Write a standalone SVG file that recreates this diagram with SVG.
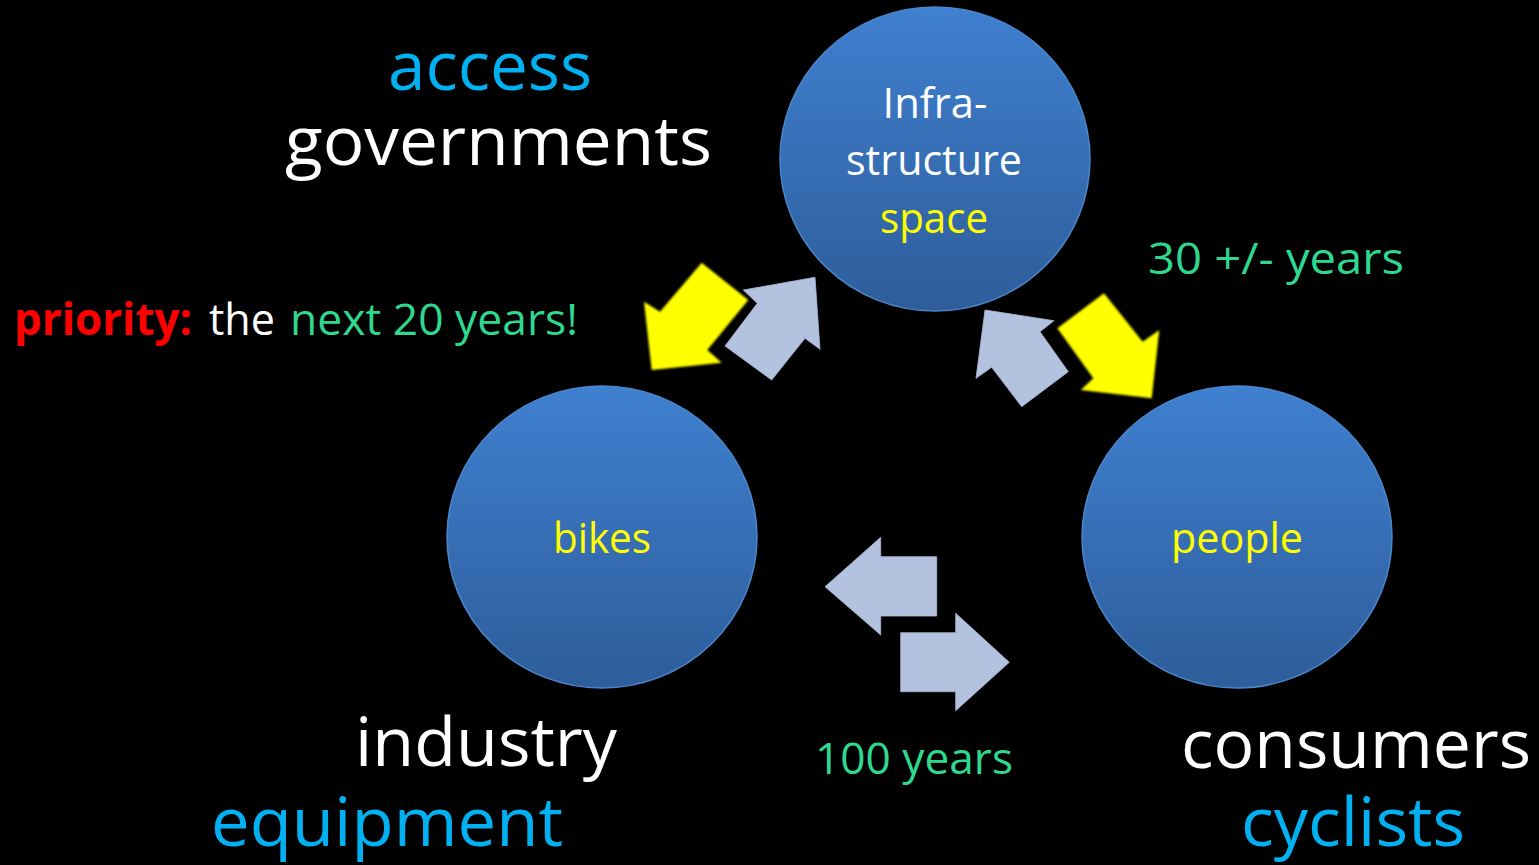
<svg xmlns="http://www.w3.org/2000/svg" width="1539" height="865" viewBox="0 0 1539 865">
<defs>
<linearGradient id="ball" x1="0" y1="0" x2="0" y2="1">
<stop offset="0" stop-color="#3f80d0"/>
<stop offset="1" stop-color="#2e5d9a"/>
</linearGradient>
<filter id="soft" x="-10%" y="-10%" width="120%" height="120%">
<feGaussianBlur stdDeviation="0.9"/>
</filter>
<style>
.node{fill:url(#ball);stroke:#4a88cc;stroke-width:1.5}
.t{font-family:"Open Sans","Noto Sans","DejaVu Sans",sans-serif}
.big{font-size:67px}
.mid{font-size:44px}
.in{font-size:42px;text-anchor:middle}
.white{fill:#ffffff}
.cyan{fill:#00b0f0}
.yel{fill:#ffff00}
.grn{fill:#2fd88f}
.red{fill:#ff0000;font-weight:bold}
.lb{fill:#b3c3df;stroke:#a9b8d3;stroke-width:0.8}
.ya{fill:#ffff00;filter:url(#soft)}
</style>
</defs>
<rect width="1539" height="865" fill="#000000"/>

<g id="node-infrastructure">
<ellipse class="node" cx="935" cy="159" rx="155" ry="152"/>
<text class="t in white" x="935" y="118" textLength="105" lengthAdjust="spacingAndGlyphs">Infra-</text>
<text class="t in white" x="934" y="175" textLength="176" lengthAdjust="spacingAndGlyphs">structure</text>
<text class="t in yel" x="934" y="233" textLength="108" lengthAdjust="spacingAndGlyphs">space</text>
</g>

<g id="node-bikes">
<ellipse class="node" cx="602" cy="537" rx="155" ry="151"/>
<text class="t in yel" x="602" y="553" textLength="98" lengthAdjust="spacingAndGlyphs">bikes</text>
</g>

<g id="node-people">
<ellipse class="node" cx="1237" cy="537" rx="155" ry="151"/>
<text class="t in yel" x="1237" y="553" textLength="132" lengthAdjust="spacingAndGlyphs">people</text>
</g>

<g id="connectors">
<polygon class="ya" points="701.7,262.7 748.3,300 707.3,350 721.7,362.7 651.7,370 644,301.7 660,311.7"/>
<polygon class="lb" points="725,346 771.7,380 805,338.3 820,349.3 815,277.3 743.3,290 757.3,303.3"/>
<polygon class="lb" points="985,310 1054,320.7 1040,331.7 1068.3,371.7 1021.7,406.7 991.7,367.3 976,378.3"/>
<polygon class="ya" points="1104,293.3 1057.3,328.3 1093.3,378.3 1080.7,390 1151.7,398.3 1159.3,330 1142.7,341.7"/>
<polygon class="lb" points="825,586.7 880.7,537.3 880.7,556.7 936.7,556.7 936.7,616 880.7,616 880.7,635"/>
<polygon class="lb" points="900.7,632.7 955.7,632.7 955.7,613.3 1009.3,662.3 955.7,710.7 955.7,691.7 900.7,691.7"/>
</g>

<g id="labels">
<text class="t big cyan" x="388" y="90" textLength="204" lengthAdjust="spacingAndGlyphs">access</text>
<text class="t big white" x="285" y="165" textLength="427" lengthAdjust="spacingAndGlyphs">governments</text>
<text class="t mid red" x="14" y="335" textLength="178" lengthAdjust="spacingAndGlyphs">priority:</text>
<text class="t mid white" x="209" y="335" textLength="66" lengthAdjust="spacingAndGlyphs">the</text>
<text class="t mid grn" x="290" y="335" textLength="288" lengthAdjust="spacingAndGlyphs">next 20 years!</text>
<text class="t mid grn" x="1148" y="274" textLength="256" lengthAdjust="spacingAndGlyphs">30 +/- years</text>
<text class="t mid grn" x="815" y="774" textLength="198" lengthAdjust="spacingAndGlyphs">100 years</text>
<text class="t big white" x="355" y="766" textLength="262" lengthAdjust="spacingAndGlyphs">industry</text>
<text class="t big cyan" x="211" y="846" textLength="352" lengthAdjust="spacingAndGlyphs">equipment</text>
<text class="t big white" x="1181" y="768" textLength="350" lengthAdjust="spacingAndGlyphs">consumers</text>
<text class="t big cyan" x="1241" y="846" textLength="224" lengthAdjust="spacingAndGlyphs">cyclists</text>
</g>
</svg>
